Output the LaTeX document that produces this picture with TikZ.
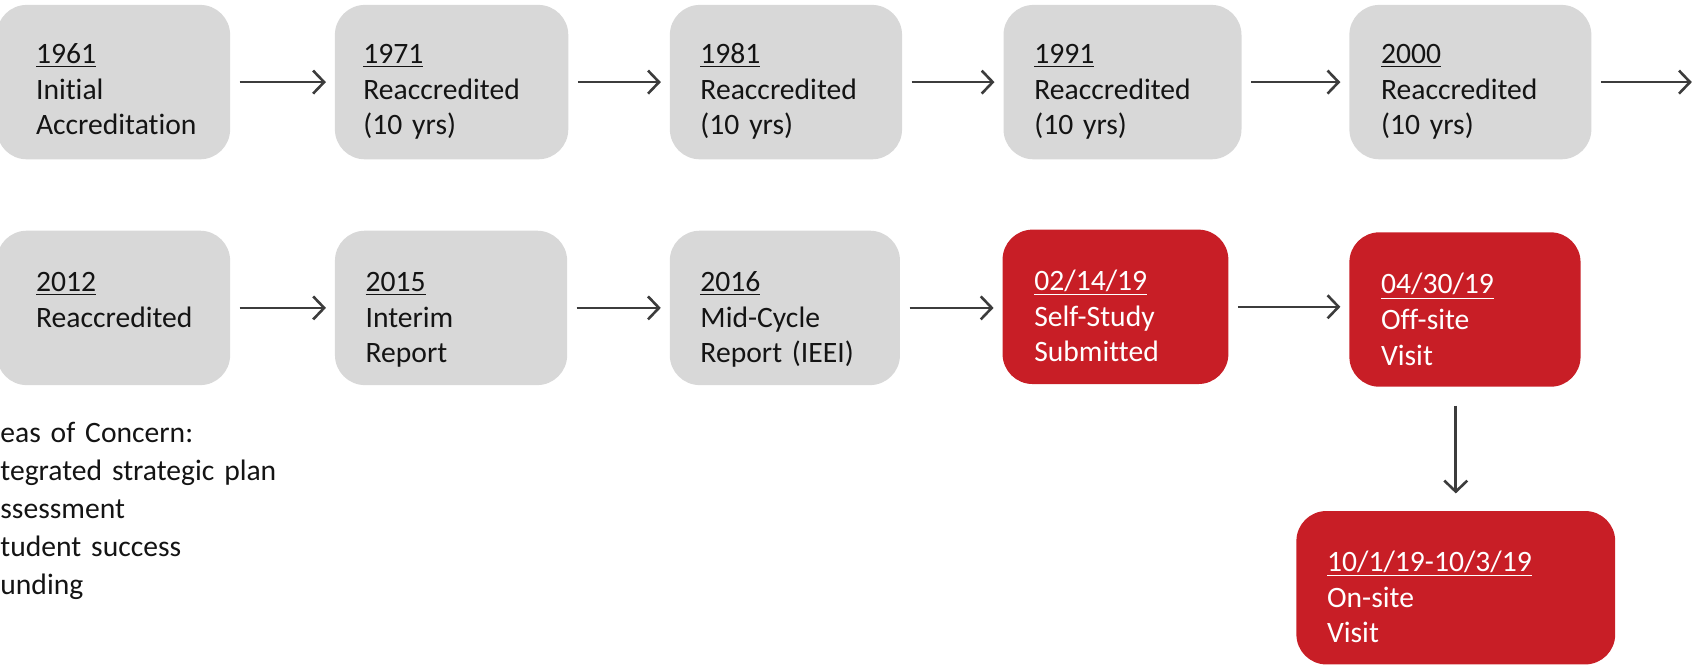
\documentclass[tikz,border=0pt]{standalone}
\usepackage{fontspec}
\setmainfont[Ligatures={NoCommon}]{Carlito}
\usetikzlibrary{arrows.meta,calc}
\definecolor{boxgray}{HTML}{D8D8D8}
\definecolor{boxred}{HTML}{C81E26}
\definecolor{arrowgray}{HTML}{3C3C3C}
\definecolor{txtdark}{HTML}{141414}
\begin{document}
\begin{tikzpicture}[x=0.5402pt,y=-0.5402pt]
\tikzset{
 graybox/.style={rectangle, rounded corners=15pt, fill=boxgray, draw=none, minimum height=77.2pt, inner sep=0pt},
 redbox/.style={graybox, fill=boxred},
 lbl/.style={anchor=base west, inner sep=0pt, text width=175pt, align=left, font=\fontsize{14.8pt}{17.8pt}\selectfont, text=txtdark},
 wlbl/.style={lbl, text=white},
 conn/.style={draw=arrowgray, line width=1.3pt, -{Straight Barb[length=5.5pt,width=11.5pt]}, shorten <=4.6pt, shorten >=4.3pt},
}
\useasboundingbox (0,0) rectangle (1568,619);
% row 1
\node[graybox, minimum width=116.7pt] (b1) at (105,76) {};
\node[graybox, minimum width=116.7pt] (b2) at (418,76) {};
\node[graybox, minimum width=116.1pt] (b3) at (727.5,76) {};
\node[graybox, minimum width=119.0pt] (b4) at (1039,76) {};
\node[graybox, minimum width=121.0pt] (b5) at (1361,76) {};
\node[lbl] (t1) at (33,59) {\underline{1961}\\Initial\\Accreditation};
\node[lbl] (t2) at (336,59) {\underline{1971}\\Reaccredited\\(10 yrs)};
\node[lbl] (t3) at (648,59) {\underline{1981}\\Reaccredited\\(10 yrs)};
\node[lbl] (t4) at (957,59) {\underline{1991}\\Reaccredited\\(10 yrs)};
\node[lbl] (t5) at (1278,59) {\underline{2000}\\Reaccredited\\(10 yrs)};
\coordinate (e1) at (1566,76);
\draw[conn] (b1) -- (b2);
\draw[conn] (b2) -- (b3);
\draw[conn] (b3) -- (b4);
\draw[conn] (b4) -- (b5);
\draw[conn, shorten >=0pt] (b5) -- (e1);
% row 2
\node[graybox, minimum width=116.7pt] (c1) at (105,285) {};
\node[graybox, minimum width=116.1pt] (c2) at (417.5,285) {};
\node[graybox, minimum width=115.1pt] (c3) at (726.5,285) {};
\node[redbox, minimum width=112.9pt] (r1) at (1032.5,284) {};
\node[redbox, minimum width=115.6pt] (r2) at (1356,286.5) {};
\node[redbox, minimum width=159.4pt, minimum height=76.7pt] (r3) at (1347.5,544) {};
\node[lbl] (u1) at (33,270) {\underline{2012}\\Reaccredited};
\node[lbl] (u2) at (338,270) {\underline{2015}\\Interim\\Report};
\node[lbl] (u3) at (648,270) {\underline{2016}\\Mid-Cycle\\Report (IEEI)};
\node[wlbl] (v1) at (957,269) {\underline{02/14/19}\\Self-Study\\Submitted};
\node[wlbl] (v2) at (1278,272) {\underline{04/30/19}\\Off-site\\Visit};
\node[wlbl] (v3) at (1228,529) {\underline{10/1/19-10/3/19}\\On-site\\Visit};
\draw[conn] (c1) -- (c2);
\draw[conn] (c2) -- (c3);
\draw[conn] (c3) -- (c3 -| r1.west);
\draw[conn] (r1) -- (r1 -| r2.west);
\draw[conn, shorten <=9.2pt, shorten >=8.6pt] (r2.south -| r3.north) -- (r3.north);
% concerns
\node[lbl, font=\fontsize{14.8pt}{18.9pt}\selectfont] (conc) at (0,410) {eas of Concern:\\tegrated strategic plan\\ssessment\\tudent success\\unding};
\end{tikzpicture}
\end{document}
